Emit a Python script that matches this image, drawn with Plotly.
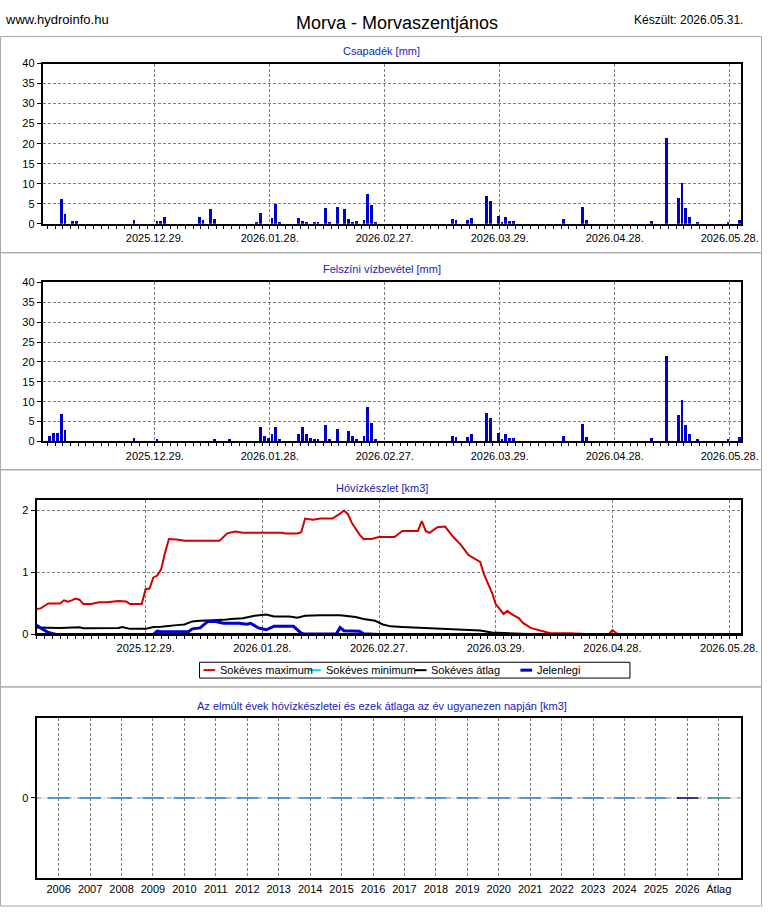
import plotly.graph_objects as go

# ---------------- data ----------------
tick_dates = ["2025-12-29", "2026-01-28", "2026-02-27", "2026-03-29", "2026-04-28", "2026-05-28"]
tick_labels = ["2025.12.29.", "2026.01.28.", "2026.02.27.", "2026.03.29.", "2026.04.28.", "2026.05.28."]

precip_dates = ["2025-12-04", "2025-12-05", "2025-12-07", "2025-12-08", "2025-12-23", "2025-12-29",
                "2025-12-30", "2025-12-31", "2026-01-09", "2026-01-10", "2026-01-12", "2026-01-13",
                "2026-01-24", "2026-01-25", "2026-01-28", "2026-01-29", "2026-01-30", "2026-02-04",
                "2026-02-05", "2026-02-06", "2026-02-08", "2026-02-09", "2026-02-11", "2026-02-12",
                "2026-02-14", "2026-02-16", "2026-02-17", "2026-02-18", "2026-02-19", "2026-02-21",
                "2026-02-22", "2026-02-23", "2026-02-24", "2026-03-16", "2026-03-17", "2026-03-20",
                "2026-03-21", "2026-03-25", "2026-03-26", "2026-03-28", "2026-03-29", "2026-03-30",
                "2026-03-31", "2026-04-01", "2026-04-14", "2026-04-19", "2026-04-20", "2026-05-07",
                "2026-05-11", "2026-05-14", "2026-05-15", "2026-05-16", "2026-05-17", "2026-05-19",
                "2026-05-27", "2026-05-30"]
precip_mm = [6.3, 2.6, 0.7, 0.9, 1.15, 0.9,
             0.7, 1.9, 1.9, 1.15, 3.9, 1.4,
             0.65, 2.9, 1.6, 5.1, 0.65, 1.6,
             0.9, 0.65, 0.65, 0.65, 4.1, 0.65,
             4.35, 3.9, 1.4, 0.65, 0.9, 1.15,
             7.55, 4.75, 0.65, 1.4, 1.15, 1.15,
             1.6, 7.05, 5.8, 2.1, 0.65, 1.9,
             0.9, 0.9, 1.4, 4.35, 1.15, 0.9,
             21.6, 6.6, 10.3, 4.1, 1.9, 0.65,
             0.65, 1.15]

surface_dates = ["2025-12-01", "2025-12-02", "2025-12-03", "2025-12-04", "2025-12-05", "2025-12-23",
                 "2025-12-29", "2026-01-13", "2026-01-17", "2026-01-25", "2026-01-26", "2026-01-27",
                 "2026-01-28", "2026-01-29", "2026-01-30", "2026-02-04", "2026-02-05", "2026-02-06",
                 "2026-02-07", "2026-02-08", "2026-02-09", "2026-02-11", "2026-02-12", "2026-02-14",
                 "2026-02-17", "2026-02-18", "2026-02-19", "2026-02-21", "2026-02-22", "2026-02-23",
                 "2026-02-24", "2026-03-16", "2026-03-17", "2026-03-20", "2026-03-21", "2026-03-25",
                 "2026-03-26", "2026-03-28", "2026-03-29", "2026-03-30", "2026-03-31", "2026-04-01",
                 "2026-04-14", "2026-04-19", "2026-04-20", "2026-05-07", "2026-05-11", "2026-05-14",
                 "2026-05-15", "2026-05-16", "2026-05-17", "2026-05-19", "2026-05-27", "2026-05-30"]
surface_mm = [1.4, 2.1, 2.1, 6.8, 2.9, 0.85,
              0.6, 0.6, 0.6, 3.6, 1.4, 0.85,
              1.75, 3.6, 0.6, 1.75, 3.5, 1.75,
              0.85, 0.6, 0.6, 4.1, 0.6, 3.1,
              2.6, 1.4, 0.6, 1.4, 8.55, 4.6,
              0.6, 1.4, 1.15, 1.15, 1.75, 7.05,
              5.8, 2.1, 0.6, 1.9, 0.85, 0.85,
              1.4, 4.35, 1.15, 0.85, 21.5, 6.6,
              10.3, 4.1, 1.85, 0.6, 0.6, 1.15]

max_dates = ["2025-12-01", "2025-12-02", "2025-12-04", "2025-12-07", "2025-12-08", "2025-12-09",
             "2025-12-10", "2025-12-11", "2025-12-12", "2025-12-13", "2025-12-15", "2025-12-17",
             "2025-12-19", "2025-12-22", "2025-12-24", "2025-12-25", "2025-12-28", "2025-12-29",
             "2025-12-30", "2025-12-31", "2026-01-01", "2026-01-02", "2026-01-03", "2026-01-04",
             "2026-01-06", "2026-01-08", "2026-01-17", "2026-01-19", "2026-01-21", "2026-01-23",
             "2026-02-02", "2026-02-03", "2026-02-06", "2026-02-07", "2026-02-08", "2026-02-09",
             "2026-02-10", "2026-02-12", "2026-02-15", "2026-02-17", "2026-02-18", "2026-02-19",
             "2026-02-20", "2026-02-22", "2026-02-23", "2026-02-25", "2026-02-27", "2026-03-03",
             "2026-03-05", "2026-03-09", "2026-03-10", "2026-03-11", "2026-03-12", "2026-03-14",
             "2026-03-16", "2026-03-18", "2026-03-20", "2026-03-22", "2026-03-25", "2026-03-26",
             "2026-03-28", "2026-03-29", "2026-03-31", "2026-04-01", "2026-04-02", "2026-04-04",
             "2026-04-05", "2026-04-07", "2026-04-10", "2026-04-12", "2026-04-17", "2026-04-21",
             "2026-04-24", "2026-04-27", "2026-04-28", "2026-04-29", "2026-04-30", "2026-05-31"]
max_km3 = [0.41, 0.42, 0.50, 0.50, 0.55, 0.53, 0.55, 0.58, 0.56, 0.49,
           0.49, 0.52, 0.52, 0.54, 0.53, 0.49, 0.49, 0.73, 0.74, 0.92,
           0.95, 1.05, 1.32, 1.54, 1.53, 1.51, 1.51, 1.63, 1.66, 1.64,
           1.64, 1.63, 1.63, 1.65, 1.87, 1.86, 1.85, 1.87, 1.87, 1.95,
           2.0, 1.94, 1.80, 1.61, 1.54, 1.54, 1.57, 1.57, 1.67, 1.67,
           1.83, 1.67, 1.64, 1.73, 1.74, 1.58, 1.45, 1.28, 1.17, 0.97,
           0.68, 0.49, 0.33, 0.38, 0.33, 0.26, 0.185, 0.105, 0.05, 0.02,
           0.02, 0.005, 0, 0, 0.07, 0.02, 0, 0]

min_dates = ["2025-12-01", "2026-05-31"]
min_km3 = [0, 0]

avg_dates = ["2025-12-01", "2025-12-07", "2025-12-12", "2025-12-13", "2025-12-22", "2025-12-23",
             "2025-12-25", "2025-12-29", "2025-12-31", "2026-01-02", "2026-01-06", "2026-01-08",
             "2026-01-10", "2026-01-12", "2026-01-18", "2026-01-20", "2026-01-23", "2026-01-26",
             "2026-01-29", "2026-01-31", "2026-02-04", "2026-02-06", "2026-02-08", "2026-02-12",
             "2026-02-17", "2026-02-21", "2026-02-23", "2026-02-26", "2026-02-28", "2026-03-02",
             "2026-03-05", "2026-03-11", "2026-03-17", "2026-03-23", "2026-03-25", "2026-03-28",
             "2026-04-03", "2026-04-08", "2026-04-10", "2026-05-31"]
avg_km3 = [0.11, 0.105, 0.115, 0.10, 0.105, 0.12, 0.09, 0.09, 0.12, 0.125,
           0.15, 0.16, 0.21, 0.22, 0.235, 0.25, 0.26, 0.30, 0.32, 0.29,
           0.29, 0.27, 0.30, 0.31, 0.31, 0.28, 0.25, 0.22, 0.16, 0.13,
           0.12, 0.105, 0.09, 0.08, 0.065, 0.03, 0.02, 0.005, 0, 0]

cur_dates = ["2025-12-01", "2025-12-02", "2025-12-04", "2025-12-06", "2025-12-31", "2026-01-01",
             "2026-01-02", "2026-01-09", "2026-01-10", "2026-01-12", "2026-01-14", "2026-01-16",
             "2026-01-18", "2026-01-22", "2026-01-24", "2026-01-25", "2026-01-27", "2026-01-29",
             "2026-01-31", "2026-02-05", "2026-02-07", "2026-02-08", "2026-02-16", "2026-02-17",
             "2026-02-18", "2026-02-22", "2026-02-23", "2026-02-27", "2026-05-31"]
cur_km3 = [0.15, 0.105, 0.03, 0, 0, 0.055, 0.045, 0.045, 0.09, 0.105,
           0.21, 0.21, 0.18, 0.18, 0.165, 0.18, 0.105, 0.075, 0.13, 0.13,
           0.02, 0.005, 0.005, 0.11, 0.06, 0.05, 0.01, 0, 0]

year_labels = ["2006", "2007", "2008", "2009", "2010", "2011", "2012", "2013", "2014", "2015",
               "2016", "2017", "2018", "2019", "2020", "2021", "2022", "2023", "2024", "2025",
               "2026", "Átlag"]
year_km3 = [0, 0, 0, 0, 0, 0, 0, 0, 0, 0,
            0, 0, 0, 0, 0, 0, 0, 0, 0, 0,
            0, 0]

# ---------------- styling ----------------
W, H = 780, 913
FONT = "Liberation Sans, Arial, sans-serif"
BLUE_T = "#2020c0"
GRID = "#808080"
DASH = "3px,2px"
DAY_MS = 86400000
BAR_W = 0.74 * DAY_MS


def px_x(p):
    return p / W


def px_y(p):
    return 1 - p / H


fig = go.Figure()

# panel 1 & 2 bars (bars centered on midday)
fig.add_trace(go.Bar(x=[d + " 12:00" for d in precip_dates], y=precip_mm, width=BAR_W,
                     marker=dict(color="#0000cc", line=dict(width=0)),
                     xaxis="x", yaxis="y", showlegend=False))
fig.add_trace(go.Bar(x=[d + " 12:00" for d in surface_dates], y=surface_mm, width=BAR_W,
                     marker=dict(color="#0000cc", line=dict(width=0)),
                     xaxis="x2", yaxis="y2", showlegend=False))

# panel 3 lines
series3 = [
    ("Sokéves maximum", max_dates, max_km3, "#d40000", 2),
    ("Sokéves minimum", min_dates, min_km3, "#00e0f0", 2),
    ("Sokéves átlag", avg_dates, avg_km3, "#000000", 2),
    ("Jelenlegi", cur_dates, cur_km3, "#0000d0", 3),
]
for name, xs, ys, col, w in series3:
    fig.add_trace(go.Scatter(x=xs, y=ys, mode="lines", name=name,
                             line=dict(color=col, width=w), xaxis="x3", yaxis="y3",
                             showlegend=False))

# panel 4: zero-height values drawn as short horizontal segments
HALF = 0.34
seg_colors = ["#2f7fc8"] * 20 + ["#000060", "#2a8a8a"]
for i, (lab, v) in enumerate(zip(year_labels, year_km3)):
    fig.add_trace(go.Scatter(x=[i - HALF, i + HALF], y=[v, v], mode="lines",
                             line=dict(color=seg_colors[i], width=1.5),
                             xaxis="x4", yaxis="y4", showlegend=False, hoverinfo="skip"))

date_minor = dict(ticks="outside", ticklen=3, tickcolor="black", dtick=2 * DAY_MS,
                  tick0="2025-12-29", showgrid=False)


def date_axis(domain, rng, anchor, lw=2):
    return dict(type="date", domain=domain, range=rng, anchor=anchor,
                tickmode="array", tickvals=tick_dates, ticktext=tick_labels,
                showgrid=True, gridcolor=GRID, griddash=DASH, gridwidth=1,
                showline=True, linecolor="black", linewidth=lw, mirror=True,
                ticks="outside", ticklen=3, tickcolor="black",
                tickfont=dict(size=11, color="black"), minor=date_minor, zeroline=False)


def val_axis(domain, rng, tickvals, anchor):
    return dict(domain=domain, range=rng, anchor=anchor, tickmode="array",
                tickvals=tickvals, ticktext=[str(t) for t in tickvals],
                showgrid=True, gridcolor=GRID, griddash=DASH, gridwidth=1,
                showline=True, linecolor="black", linewidth=2, mirror=True,
                ticks="outside", ticklen=4, tickcolor="black",
                tickfont=dict(size=11, color="black"), zeroline=False)


x12 = [px_x(43.7), px_x(757.7)]
x34 = [px_x(37.5), px_x(757.3)]
rng12 = ["2025-11-29 18:00", "2026-05-31 00:00"]
rng3 = ["2025-12-01 00:00", "2026-05-31 00:00"]

fig.update_layout(
    width=W, height=H, margin=dict(l=0, r=0, t=0, b=0),
    paper_bgcolor="white", plot_bgcolor="white",
    font=dict(family=FONT, size=11, color="black"),
    bargap=0,
    xaxis=date_axis(x12, rng12, "y"),
    yaxis=val_axis([px_y(220.7), px_y(58.3)], [0, 40], [0, 5, 10, 15, 20, 25, 30, 35, 40], "x"),
    xaxis2=date_axis(x12, rng12, "y2"),
    yaxis2=val_axis([px_y(441.3), px_y(280.0)], [0, 40], [0, 5, 10, 15, 20, 25, 30, 35, 40], "x2"),
    xaxis3=date_axis(x34, rng3, "y3", lw=1.5),
    yaxis3=val_axis([px_y(636.8), px_y(500.7)], [0, 2.167], [0, 1, 2], "x3"),
    xaxis4=dict(domain=x34, range=[-0.7, len(year_labels) - 0.3], anchor="y4",
                tickmode="array", tickvals=list(range(len(year_labels))), ticktext=year_labels,
                showgrid=True, gridcolor=GRID, griddash=DASH, gridwidth=1,
                showline=True, linecolor="black", linewidth=2, mirror=True,
                ticks="", tickfont=dict(size=11, color="black"), zeroline=False),
    yaxis4=dict(domain=[px_y(883.3), px_y(721.7)], range=[-1, 1], anchor="x4",
                tickmode="array", tickvals=[0], ticktext=["0"], showgrid=False,
                showline=True, linecolor="black", linewidth=2, mirror=True,
                ticks="outside", ticklen=4, tickcolor="black",
                tickfont=dict(size=11, color="black"), zeroline=False),
    showlegend=False,
)

# panel frames
shapes = []
for top, bot in [(31, 250), (250, 470), (470, 690), (690, 912)]:
    shapes.append(dict(type="rect", xref="paper", yref="paper", x0=px_x(0.5), x1=px_x(778.5),
                       y0=px_y(bot), y1=px_y(top), line=dict(color="#a8a8a8", width=1),
                       layer="below"))
# dash-dot zero line of panel 4
shapes.append(dict(type="line", xref="x4 domain", yref="y4", x0=0, x1=1, y0=0, y1=0,
                   line=dict(color="#808080", width=1, dash="5px,2px,1px,2px"), layer="below"))
# panel 3 base line drawn over the traces, so zero values sit under the axis as in the original
shapes.append(dict(type="line", xref="x3 domain", yref="y3", x0=0, x1=1, y0=0, y1=0,
                   line=dict(color="black", width=3), layer="above"))

# legend box for panel 3 (drawn by hand to match the original compact legend)
LEG_TOP, LEG_BOT, LEG_L, LEG_R = 665, 681, 204, 644
LEG_STEP = 108
shapes.append(dict(type="rect", xref="paper", yref="paper", x0=px_x(LEG_L), x1=px_x(LEG_R),
                   y0=px_y(LEG_BOT), y1=px_y(LEG_TOP), line=dict(color="black", width=1),
                   fillcolor="white"))
ann = []
for j, (name, xs, ys, col, w) in enumerate(series3):
    x0 = 208 + LEG_STEP * j
    ymid = (LEG_TOP + LEG_BOT) / 2
    shapes.append(dict(type="line", xref="paper", yref="paper", x0=px_x(x0), x1=px_x(x0 + 12),
                       y0=px_y(ymid), y1=px_y(ymid), line=dict(color=col, width=w)))
    ann.append(dict(text=name, x=px_x(x0 + 15), y=px_y(ymid), xanchor="left", yanchor="middle",
                    font=dict(size=11, color="black")))
fig.update_layout(shapes=shapes)

ann += [
    dict(text="www.hydroinfo.hu", x=px_x(3), y=px_y(14), xanchor="left", yanchor="middle",
         font=dict(size=13, color="black")),
    dict(text="Morva - Morvaszentjános", x=px_x(406), y=px_y(17), xanchor="center", yanchor="middle",
         font=dict(size=18, color="black")),
    dict(text="Készült: 2026.05.31.", x=px_x(762), y=px_y(14), xanchor="right", yanchor="middle",
         font=dict(size=12, color="black")),
    dict(text="Csapadék [mm]", x=0.5, y=px_y(46), xanchor="center", yanchor="middle",
         font=dict(size=11, color=BLUE_T)),
    dict(text="Felszíni vízbevétel [mm]", x=0.5, y=px_y(267), xanchor="center", yanchor="middle",
         font=dict(size=11, color=BLUE_T)),
    dict(text="Hóvízkészlet [km3]", x=0.5, y=px_y(488), xanchor="center", yanchor="middle",
         font=dict(size=11, color=BLUE_T)),
    dict(text="Az elmúlt évek hóvízkészletei és ezek átlaga az év ugyanezen napján [km3]",
         x=0.5, y=px_y(709), xanchor="center", yanchor="middle",
         font=dict(size=11, color=BLUE_T)),
]
for a in ann:
    a.update(xref="paper", yref="paper", showarrow=False)
fig.update_layout(annotations=ann)

fig.write_html(
    "out.html",
    config={"displayModeBar": False, "responsive": False},
    post_script="document.body.style.margin='0';document.body.style.overflow='hidden';"
                "document.documentElement.style.overflow='hidden';",
)
